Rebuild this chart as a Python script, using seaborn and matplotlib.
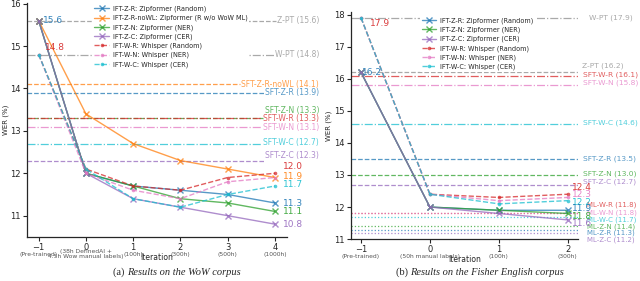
import pandas as pd
import seaborn as sns
import matplotlib.pyplot as plt

# --- data: WoW corpus ---
wow_iters = [-1, 0, 1, 2, 3, 4]
wow_ticks = ['\u22121', '0', '1', '2', '3', '4']
wow_sub = ['(Pre-trained)', '(38h DefinedAI +\n4.5h Wow manual labels)',
           '(100h)', '(300h)', '(500h)', '(1000h)']
wow_z_r = [15.6, 12.0, 11.7, 11.6, 11.5, 11.3]
wow_z_r_nowl = [15.6, 13.4, 12.7, 12.3, 12.1, 11.9]
wow_z_n = [15.6, 12.0, 11.7, 11.4, 11.3, 11.1]
wow_z_c = [15.6, 12.0, 11.4, 11.2, 11.0, 10.8]
wow_w_r = [14.8, 12.1, 11.7, 11.6, 11.9, 12.0]
wow_w_n = [14.8, 12.0, 11.6, 11.4, 11.8, 11.9]
wow_w_c = [14.8, 12.1, 11.4, 11.2, 11.5, 11.7]
wow_ref_names = ['Z-PT', 'W-PT', 'SFT-Z-R-noWL', 'SFT-Z-R', 'SFT-Z-N',
                 'SFT-W-R', 'SFT-W-N', 'SFT-W-C', 'SFT-Z-C']
wow_ref_vals = [15.6, 14.8, 14.1, 13.9, 13.3, 13.3, 13.1, 12.7, 12.3]

# --- data: Fisher English corpus ---
fis_iters = [-1, 0, 1, 2]
fis_ticks = ['\u22121', '0', '1', '2']
fis_sub = ['(Pre-trained)', '(50h manual labels)', '(100h)', '(300h)']
fis_z_r = [16.2, 12.0, 11.9, 11.9]
fis_z_n = [16.2, 12.0, 11.9, 11.8]
fis_z_c = [16.2, 12.0, 11.8, 11.6]
fis_w_r = [17.9, 12.4, 12.3, 12.4]
fis_w_n = [17.9, 12.4, 12.2, 12.3]
fis_w_c = [17.9, 12.4, 12.1, 12.2]
fis_ref_names = ['W-PT', 'Z-PT', 'SFT-W-R', 'SFT-W-N', 'SFT-W-C', 'SFT-Z-R',
                 'SFT-Z-N', 'SFT-Z-C', 'ML-W-R', 'ML-W-N', 'ML-W-C',
                 'ML-Z-N', 'ML-Z-R', 'ML-Z-C']
fis_ref_vals = [17.9, 16.2, 16.1, 15.8, 14.6, 13.5, 13.0, 12.7,
                11.8, 11.8, 11.7, 11.4, 11.3, 11.2]

# colours / styles
C = {'Z-R': '#1f77b4', 'Z-R-noWL': '#ff7f0e', 'Z-N': '#2ca02c', 'Z-C': '#9467bd',
     'W-R': '#d62728', 'W-N': '#e377c2', 'W-C': '#17becf', 'PT': '#8c8c8c'}
A = 0.75


def ref_style(name):
    key = name.split('-', 1)[1] if not name.endswith('PT') else 'PT'
    if name.endswith('PT'):
        ls = '--' if name.startswith('Z') else '-.'
    elif name.startswith('ML'):
        ls = ':'
    else:
        ls = '--' if key.startswith('Z') else '-.'
    return C[key], ls


sns.set_style('ticks')
plt.rcParams['font.family'] = ['DejaVu Sans']
fig = plt.figure(figsize=(6.4, 2.81), dpi=100)
ax1 = fig.add_axes([0.042, 0.157, 0.406, 0.833])
ax2 = fig.add_axes([0.548, 0.149, 0.355, 0.808])


def draw_series(ax, x, series):
    for label, key, y in series:
        z = key.startswith('Z')
        sns.lineplot(x=x, y=y, ax=ax, color=C[key], alpha=A, lw=1,
                     linestyle='-' if z else '--',
                     marker='x' if z else 'o',
                     markersize=4.5 if z else 2.6,
                     markeredgewidth=1 if z else 0,
                     markeredgecolor=C[key], markerfacecolor=C[key],
                     label=label, legend=False)


wow_series = [
    ('IFT-Z-R: Zipformer (Random)', 'Z-R', wow_z_r),
    ('IFT-Z-R-noWL: Zipformer (R w/o WoW ML)', 'Z-R-noWL', wow_z_r_nowl),
    ('IFT-Z-N: Zipformer (NER)', 'Z-N', wow_z_n),
    ('IFT-Z-C: Zipformer (CER)', 'Z-C', wow_z_c),
    ('IFT-W-R: Whisper (Random)', 'W-R', wow_w_r),
    ('IFT-W-N: Whisper (NER)', 'W-N', wow_w_n),
    ('IFT-W-C: Whisper (CER)', 'W-C', wow_w_c),
]
fis_series = [
    ('IFT-Z-R: Zipformer (Random)', 'Z-R', fis_z_r),
    ('IFT-Z-N: Zipformer (NER)', 'Z-N', fis_z_n),
    ('IFT-Z-C: Zipformer (CER)', 'Z-C', fis_z_c),
    ('IFT-W-R: Whisper (Random)', 'W-R', fis_w_r),
    ('IFT-W-N: Whisper (NER)', 'W-N', fis_w_n),
    ('IFT-W-C: Whisper (CER)', 'W-C', fis_w_c),
]

draw_series(ax1, wow_iters, wow_series)
draw_series(ax2, fis_iters, fis_series)

ax1.set_xlim(-1.25, 4.25)
ax1.set_ylim(10.5, 16.02)
ax2.set_xlim(-1.15, 2.15)
ax2.set_ylim(11, 18.08)

# reference lines, left panel: labels right-aligned, line stops at label
wow_label_y = [15.6, 14.8, 14.1, 13.9, 13.48, 13.29, 13.08, 12.73, 12.42]
wow_texts = []
for name, v, ly in zip(wow_ref_names, wow_ref_vals, wow_label_y):
    col, ls = ref_style(name)
    t = ax1.text(1.125, ly, f'{name} ({v})', transform=ax1.get_yaxis_transform(),
                 ha='right', va='center', fontsize=5.5, color=col, alpha=A,
                 clip_on=False)
    wow_texts.append((t, v, col, ls))
fig.canvas.draw()
inv = ax1.transAxes.inverted()
for t, v, col, ls in wow_texts:
    x0 = inv.transform(t.get_window_extent().p0)[0]
    ax1.axhline(v, xmin=0, xmax=x0 - 0.005, color=col, ls=ls, lw=0.9,
                alpha=A, clip_on=False, zorder=1)

# reference lines, right panel: labels left-aligned just past the axes
fis_label_y = [17.9, 16.42, 16.12, 15.87, 14.63, 13.5, 13.03, 12.78,
               12.06, 11.81, 11.6, 11.38, 11.19, 10.97]
fis_label_x = [1.047, 1.017, 1.022, 1.022, 1.022, 1.022, 1.022, 1.022,
               1.042, 1.042, 1.042, 1.042, 1.042, 1.042]
for name, v, ly, lx in zip(fis_ref_names, fis_ref_vals, fis_label_y, fis_label_x):
    col, ls = ref_style(name)
    ax2.axhline(v, color=col, ls=ls, lw=0.9, alpha=A, zorder=1)
    ax2.text(lx, ly, f'{name} ({v})', transform=ax2.get_yaxis_transform(),
             ha='left', va='center', color=col, alpha=A, clip_on=False,
             fontsize=5.0 if name.startswith('ML') else 5.4)

# end-of-line values
wow_end_keys = ['W-R', 'Z-R-noWL', 'W-C', 'Z-R', 'Z-N', 'Z-C']
wow_end_vals = [wow_w_r[-1], wow_z_r_nowl[-1], wow_w_c[-1], wow_z_r[-1], wow_z_n[-1], wow_z_c[-1]]
wow_end_y = [12.17, 11.93, 11.73, 11.28, 11.1, 10.8]
for k, v, y in zip(wow_end_keys, wow_end_vals, wow_end_y):
    ax1.text(4.17, y, f'{v}', color=C[k], alpha=0.9, fontsize=6.5, va='center',
             clip_on=False)
fis_end_keys = ['W-R', 'W-N', 'W-C', 'Z-R', 'Z-N', 'Z-C']
fis_end_vals = [fis_w_r[-1], fis_w_n[-1], fis_w_c[-1], fis_z_r[-1], fis_z_n[-1], fis_z_c[-1]]
fis_end_y = [12.62, 12.38, 12.15, 11.94, 11.7, 11.5]
for k, v, y in zip(fis_end_keys, fis_end_vals, fis_end_y):
    ax2.text(2.07, y, f'{v}', color=C[k], alpha=0.9, fontsize=6.5, va='center',
             clip_on=False)

# start values
ax1.text(-0.9, wow_z_r[0], f'{wow_z_r[0]}', color=C['Z-R'], alpha=0.9, fontsize=6.5, va='center')
ax1.text(-0.87, 14.97, f'{wow_w_r[0]}', color=C['W-R'], alpha=0.9, fontsize=6.5, va='center')
ax2.text(-0.98, fis_z_r[0], f'{fis_z_r[0]}', color=C['Z-R'], alpha=0.9, fontsize=6.5, va='center')
ax2.text(-0.87, 17.72, f'{fis_w_r[0]}', color=C['W-R'], alpha=0.9, fontsize=6.5, va='center')

# axes cosmetics
for ax, iters, ticks, subs in [(ax1, wow_iters, wow_ticks, wow_sub),
                               (ax2, fis_iters, fis_ticks, fis_sub)]:
    sns.despine(ax=ax)
    ax.set_xticks(iters)
    ax.set_xticklabels(ticks)
    ax.tick_params(labelsize=6, length=3, width=0.8, pad=1.5)
    for s in ax.spines.values():
        s.set_linewidth(0.9)
    for x, s in zip(iters, subs):
        ax.annotate(s, xy=(x, 0), xycoords=('data', 'axes fraction'),
                    xytext=(0, -12.5), textcoords='offset points',
                    ha='center', va='center', fontsize=4.3, color='#555555',
                    linespacing=1.1)
    ax.set_xlabel('Iteration', fontsize=5.5, labelpad=0.5)
    ax.set_ylabel('WER (%)', fontsize=5, labelpad=1)

leg_kw = dict(fontsize=4.7, frameon=True, framealpha=1, edgecolor='none',
              facecolor='white', handlelength=2.2, borderpad=0.3,
              labelspacing=0.42, handletextpad=0.6)
l1 = ax1.legend(loc='upper left', bbox_to_anchor=(0.24, 1.01), **leg_kw)
l2 = ax2.legend(loc='upper left', bbox_to_anchor=(0.29, 1.0), **leg_kw)
l1.set_zorder(5)
l2.set_zorder(5)

# captions: "(a)" upright, rest italic
fig.canvas.draw()
for cx, tag, body in [(0.277, '(a) ', 'Results on the WoW corpus'),
                      (0.75, '(b) ', 'Results on the Fisher English corpus')]:
    t1 = fig.text(0, 0.032, tag, fontsize=7.5, family='Liberation Serif', va='center')
    t2 = fig.text(0, 0.032, body, fontsize=7.5, family='Liberation Serif',
                  style='italic', va='center')
    r = fig.canvas.get_renderer()
    w1 = t1.get_window_extent(r).width / fig.bbox.width
    w2 = t2.get_window_extent(r).width / fig.bbox.width
    x0 = cx - (w1 + w2) / 2
    t1.set_x(x0)
    t2.set_x(x0 + w1)

fig.savefig('out.png', dpi=100)
